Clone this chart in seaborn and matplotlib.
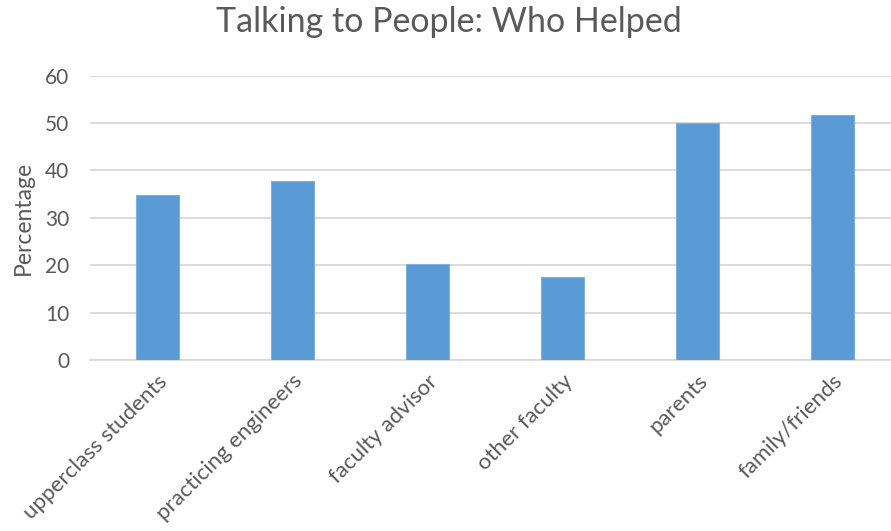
import matplotlib
matplotlib.use("Agg")
import matplotlib.pyplot as plt
import seaborn as sns
import pandas as pd

categories = ["upperclass students", "practicing engineers", "faculty advisor",
              "other faculty", "parents", "family/friends"]
values = [34.8, 37.7, 20.3, 17.5, 50.0, 51.7]
yticks = [0, 10, 20, 30, 40, 50, 60]

sns.set_theme(style="white")
plt.rcParams['font.family'] = ['Lato', 'DejaVu Sans']

df = pd.DataFrame({"cat": categories, "val": values})

fig = plt.figure(figsize=(8.91, 5.31), dpi=100)
ax = fig.add_axes([90/891, 171/531, 810/891, (360-75.7)/531])
sns.barplot(data=df, x="cat", y="val", color="#5B9BD5", width=0.315,
            saturation=1, ax=ax, edgecolor="#7FB0DD", linewidth=0.8, zorder=3)
ax.set_ylim(0, 60)
ax.set_xlim(-0.5, 5.5)
ax.set_yticks(yticks)
ax.yaxis.grid(True, color="#D9D9D9", linewidth=1.3, zorder=0)
ax.set_axisbelow(True)
for s in ["top", "right", "left"]:
    ax.spines[s].set_visible(False)
ax.spines["bottom"].set_color("#D9D9D9")
ax.spines["bottom"].set_linewidth(1.3)
ax.tick_params(axis="both", length=0, colors="#595959", labelsize=15)
ax.tick_params(axis="x", labelsize=16)
ax.tick_params(axis="y", pad=15)
ax.set_xlabel("")
ax.set_ylabel("Percentage", fontsize=16.5, color="#595959", labelpad=8)
plt.setp(ax.get_xticklabels(), rotation=45, ha="right", rotation_mode="anchor")
ax.tick_params(axis="x", pad=8)
fig.text(449/891, 1 - 22/531, "Talking to People: Who Helped", ha="center", va="center",
         fontsize=24.5, color="#595959")
fig.savefig("out.png", dpi=100)
